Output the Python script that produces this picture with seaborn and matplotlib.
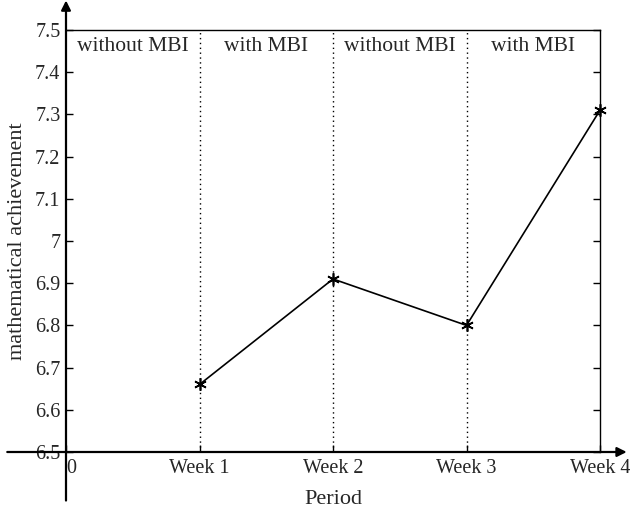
import matplotlib
matplotlib.use("Agg")
import matplotlib.pyplot as plt
import seaborn as sns
import pandas as pd

periods = [1, 2, 3, 4]
achievement = [6.66, 6.91, 6.80, 7.31]
xtick_labels = ["0", "Week 1", "Week 2", "Week 3", "Week 4"]
ytick_vals = [6.5, 6.6, 6.7, 6.8, 6.9, 7.0, 7.1, 7.2, 7.3, 7.4, 7.5]
ytick_labels = ["6.5", "6.6", "6.7", "6.8", "6.9", "7", "7.1", "7.2", "7.3", "7.4", "7.5"]
phase_labels = ["without MBI", "with MBI", "without MBI", "with MBI"]
phase_centers = [0.5, 1.5, 2.5, 3.5]
boundaries = [1, 2, 3]

sns.set_style("white")
plt.rcParams['font.family'] = ['Liberation Serif', 'DejaVu Serif']

fig = plt.figure(figsize=(6.3, 5.09), dpi=100)
ax = fig.add_axes([66/630, 57/509, 534/630, 422/509])

df = pd.DataFrame({"Period": periods, "achievement": achievement})
sns.lineplot(data=df, x="Period", y="achievement", ax=ax, color="black",
             linewidth=1.2, marker=(6, 2, 0), markersize=9, markeredgewidth=1.2,
             markeredgecolor="black")
for ln in ax.lines:
    ln.set_clip_on(False)

for b in boundaries:
    ax.axvline(b, color="black", linestyle=(0, (1, 2.5)), linewidth=1.0)

for c, t in zip(phase_centers, phase_labels):
    ax.text(c, 7.462, t, ha="center", va="center", fontsize=15.5)

ax.set_xlim(0, 4)
ax.set_ylim(6.5, 7.5)
ax.set_xticks(range(5))
ax.set_xticklabels(xtick_labels, fontsize=14.5)
ax.set_yticks(ytick_vals)
ax.set_yticklabels(ytick_labels, fontsize=14.5)
ax.get_xticklabels()[0].set_horizontalalignment("left")
ax.tick_params(axis="x", direction="in", length=5, width=1, color="black", pad=5,
               bottom=True, top=False)
ax.tick_params(axis="y", direction="in", length=5, width=1, color="black", pad=4,
               left=True, right=True)
ax.set_xlabel("Period", fontsize=16, labelpad=9)
ax.set_ylabel("mathematical achievement", fontsize=16, labelpad=6)

for s in ax.spines.values():
    s.set_color("black")
    s.set_linewidth(1.0)
ax.spines["left"].set_visible(False)
ax.spines["bottom"].set_visible(False)

# extended axis lines with arrows
ax.annotate("", xy=(1.05, 0), xytext=(-0.11, 0), xycoords="axes fraction",
            textcoords="axes fraction",
            arrowprops=dict(arrowstyle="-|>", color="black", lw=1.6,
                            mutation_scale=14, shrinkA=0, shrinkB=0),
            annotation_clip=False)
ax.annotate("", xy=(0, 1.07), xytext=(0, -0.115), xycoords="axes fraction",
            textcoords="axes fraction",
            arrowprops=dict(arrowstyle="-|>", color="black", lw=1.6,
                            mutation_scale=14, shrinkA=0, shrinkB=0),
            annotation_clip=False)

fig.savefig("out.png", dpi=100)
